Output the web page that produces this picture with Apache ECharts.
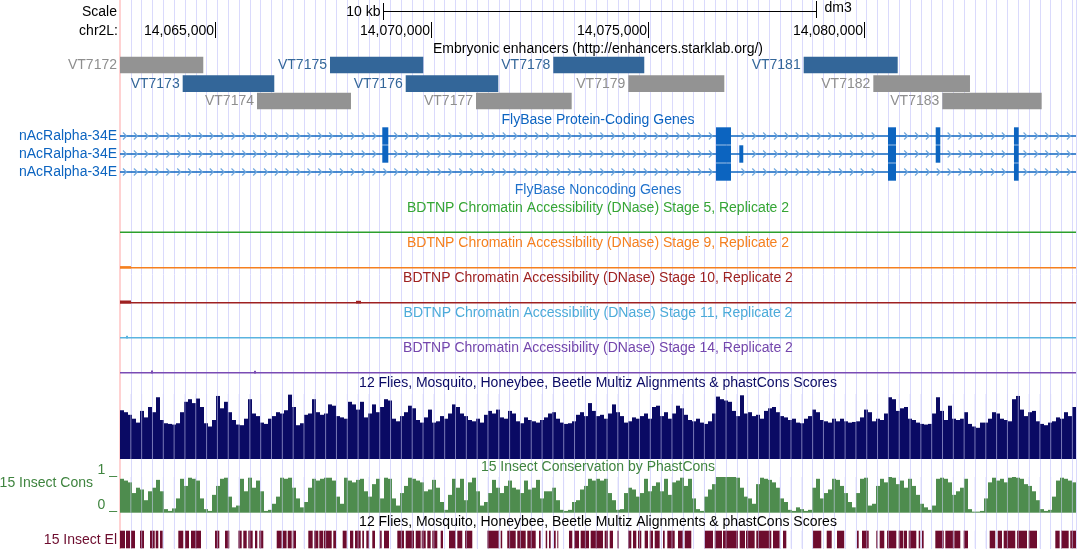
<!DOCTYPE html>
<html>
<head>
<meta charset="utf-8">
<script src="https://cdn.jsdelivr.net/npm/echarts@6/dist/echarts.min.js"></script>
<style>
  html, body { margin: 0; padding: 0; background: #ffffff; }
  #browser { width: 1078px; height: 549px; }
</style>
</head>
<body>
<div id="browser"></div>
<script>
// ---- window on chr2L (dm3) ----
const CHROM = 'chr2L:';
const ASSEMBLY = 'dm3';
const VIEW_START = 14062805;
const VIEW_END = 14084889;
const RULER_TICKS = [14065000, 14070000, 14075000, 14080000];
const SCALE_BAR = [14068873, 14078873];
const SCALE_LABEL = '10 kb';

// ---- Embryonic enhancers (Vienna tiles) ----
const ENH_NAMES  = ['VT7172', 'VT7173', 'VT7174', 'VT7175', 'VT7176', 'VT7177', 'VT7178', 'VT7179', 'VT7181', 'VT7182', 'VT7183'];
const ENH_STARTS = [14062580, 14064253, 14065970, 14067656, 14069405, 14071029, 14072814, 14074547, 14078598, 14080207, 14081800];
const ENH_ENDS   = [14064729, 14066369, 14068141, 14069811, 14071544, 14073239, 14074916, 14076765, 14080770, 14082440, 14084096];
const ENH_ROWS   = [0, 1, 2, 0, 1, 2, 0, 1, 0, 1, 2];
const ENH_ACTIVE = [0, 1, 0, 1, 1, 0, 1, 0, 1, 0, 0];

// ---- FlyBase protein-coding gene ----
const GENE_NAME = 'nAcRalpha-34E';
const GENE_START = 14055000;
const GENE_END = 14095000;
const EXON_STARTS = [14068864, 14076573, 14077111, 14080546, 14081648, 14083456];
const EXON_ENDS   = [14069003, 14076919, 14077203, 14080731, 14081754, 14083565];
const TRANSCRIPT_EXONS = [
  [0, 1, 3, 4, 5],
  [0, 1, 2, 3, 4, 5],
  [1, 3, 5]
];

// ---- BDTNP DNase accessibility (signal, 0-100) ----
const DNASE_TITLES = [
  'BDTNP Chromatin Accessibility (DNase) Stage 5, Replicate 2',
  'BDTNP Chromatin Accessibility (DNase) Stage 9, Replicate 2',
  'BDTNP Chromatin Accessibility (DNase) Stage 10, Replicate 2',
  'BDTNP Chromatin Accessibility (DNase) Stage 11, Replicate 2',
  'BDTNP Chromatin Accessibility (DNase) Stage 14, Replicate 2'
];
const DNASE_STAGE5  = [[14062805, 14084889, 5]];
const DNASE_STAGE9  = [[14062805, 14084889, 5], [14062805, 14063060, 8]];
const DNASE_STAGE10 = [[14062805, 14084889, 5], [14062805, 14063060, 10], [14068257, 14068372, 9]];
const DNASE_STAGE11 = [[14062805, 14084889, 5], [14062944, 14062990, 9]];
const DNASE_STAGE14 = [[14062805, 14084889, 5], [14063521, 14063567, 10], [14065900, 14065946, 9]];

// ---- conservation: fixed-step bins across the window ----
const MULTIZ = [
  75,72,68,62,56,74,64,80,72,95,60,55,54,53,55,72,88,92,86,93,80,55,50,60,97,78,88,72,60,53,
  52,62,92,70,66,56,54,62,66,72,70,75,99,80,52,55,68,70,92,72,68,70,84,82,66,64,62,88,84,76,
  88,64,70,84,72,80,92,90,62,58,66,72,82,78,60,56,64,76,56,58,66,62,70,84,80,70,66,60,58,62,
  56,68,74,70,76,64,62,74,70,58,55,64,60,58,56,60,64,70,72,62,56,54,55,58,68,72,66,86,74,66,
  68,62,70,84,72,66,56,58,64,62,66,70,62,80,82,66,72,62,70,82,78,68,60,58,62,56,54,58,70,96,
  92,90,88,74,66,98,70,72,66,68,62,74,78,80,72,66,64,60,62,56,55,62,66,76,72,60,58,56,62,58,
  62,58,56,57,58,64,76,72,58,62,60,70,95,92,74,78,80,62,60,56,54,53,54,70,95,74,60,82,62,60,
  62,72,54,50,48,56,56,62,72,70,62,60,58,92,97,76,66,72,74,58,54,52,56,58,64,62,72,66,80
];
const PHASTCONS = [
  95,90,85,55,70,65,35,60,70,92,60,10,5,12,40,95,75,98,95,90,40,10,5,50,75,95,98,45,15,20,
  95,60,98,70,90,60,5,8,25,45,98,95,98,70,40,15,30,70,95,90,95,98,98,90,45,25,98,90,85,92,
  95,60,45,80,95,40,98,95,40,20,55,75,98,95,90,85,60,65,92,70,30,8,50,95,70,95,35,85,98,60,
  20,30,55,92,70,55,75,90,70,65,55,90,65,70,92,40,60,60,70,35,8,5,8,30,35,65,75,95,90,95,
  90,95,55,35,8,10,55,70,65,45,55,95,60,75,85,60,95,50,85,90,98,75,95,40,10,5,45,65,80,100,
  100,100,100,100,98,70,45,40,25,80,98,95,92,85,70,40,30,8,5,15,10,5,8,70,95,40,55,65,95,92,
  75,55,30,15,55,95,98,20,25,75,95,85,100,98,80,90,70,95,75,50,25,15,8,20,95,98,95,85,50,60,
  70,95,10,3,3,5,40,85,98,90,95,85,98,100,98,95,80,75,60,35,10,5,8,45,90,98,95,90,85
];
const ELEMENT_STARTS = [
  14062800,14062944,14063059,14063267,14063498,14063630,14063729,14064152,14064307,14064445,
  14065000,14065231,14065538,14065653,14065769,14065924,14066023,14066425,14066563,14066679,
  14066794,14067155,14067286,14067409,14067517,14067732,14067949,14068118,14068234,14068402,
  14068495,14068633,14068804,14068903,14069211,14069405,14069636,14069774,14069904,14070019,
  14070213,14070405,14070597,14070775,14071290,14071599,14071751,14071983,14072214,14072484,
  14072639,14072715,14072830,14072907,14073177,14073292,14073447,14073678,14074001,14074117,
  14074293,14074540,14074655,14074771,14074925,14075041,14075157,14075348,14075448,14075695,
  14075850,14076312,14076543,14076734,14077120,14077266,14077504,14077889,14078120,14078813,
  14079130,14079368,14079830,14079945,14080276,14080354,14080523,14080793,14080908,14081024,
  14081255,14081331,14081639,14081870,14082078,14082294,14082895,14083080,14083218,14083525,
  14083796,14084411,14084542,14084757
];
const ELEMENT_ENDS = [
  14062921,14063036,14063152,14063359,14063607,14063690,14063791,14064267,14064399,14064676,
  14065099,14065330,14065616,14065732,14065870,14065977,14066115,14066540,14066653,14066771,
  14066871,14067256,14067386,14067501,14067695,14067795,14068042,14068194,14068365,14068441,
  14068557,14068696,14068850,14069019,14069365,14069596,14069751,14069867,14069982,14070135,
  14070266,14070560,14070712,14070943,14071560,14071634,14071946,14072177,14072408,14072523,
  14072673,14072754,14072870,14072930,14073253,14073408,14073639,14073962,14074078,14074193,
  14074323,14074616,14074732,14074847,14075002,14075117,14075272,14075388,14075619,14075810,
  14076002,14076503,14076711,14077081,14077243,14077466,14077850,14078044,14078197,14079005,
  14079246,14079535,14079869,14080100,14080308,14080460,14080738,14080892,14080985,14081200,
  14081292,14081370,14081833,14082064,14082216,14082394,14083024,14083179,14083486,14083757,
  14083988,14084512,14084720,14084912
];

// ---- track titles and side labels ----
const TITLE_ENHANCERS = 'Embryonic enhancers (http://enhancers.starklab.org/)';
const TITLE_GENES = 'FlyBase Protein-Coding Genes';
const TITLE_NONCODING = 'FlyBase Noncoding Genes';
const TITLE_MULTIZ = '12 Flies, Mosquito, Honeybee, Beetle Multiz Alignments & phastCons Scores';
const TITLE_PHASTCONS = '15 Insect Conservation by PhastCons';
const TITLE_ELEMENTS = '12 Flies, Mosquito, Honeybee, Beetle Multiz Alignments & phastCons Scores';
const LABEL_PHASTCONS = '15 Insect Cons';
const LABEL_ELEMENTS = '15 Insect El';
const PHASTCONS_RANGE = ['1 _', '0 _'];

// ---------------------------------------------------------------
const FONT = '14px "Liberation Sans", Arial, Helvetica, sans-serif';
const SPAN = VIEW_END - VIEW_START;
const GUIDE_BP = 250;
const LEFT = 120, RIGHT_PAD = 2, LABEL_X = 117, CENTER_X = 598;

const LAYOUT = {
  scaleY: 12, rulerY: 31, rulerTick: [22, 38],
  enhTitle: 49.5, enhRows: [65, 83.6, 101], enhH: 16.6,
  geneTitle: 120, txRows: [136, 154, 172], exonH: 17.4, chevronStep: 10.85,
  noncodingTitle: 190,
  dnaseTitle: [208, 243, 278, 313, 348], dnaseBase: [233.1, 268.5, 303.5, 338.5, 373.5], dnaseH: 30,
  multizTitle: 383, multizTop: 394, multizBottom: 459,
  pcTitle: 467.5, pcTop: 477, pcBottom: 512.7, pcLabel: 483.5, pcMax: 470, pcMin: 505.5,
  elTitle: 522.5, elTop: 530.7, elBottom: 548.3, elLabel: 540
};

const C = {
  guide: '#dadafc', edge: '#ffd2d2',
  enhActive: '#336699', enhInactive: '#939393', enhInactiveText: '#8e8e8e',
  gene: '#0c64c0', chevron: '#72a8de', noncoding: '#1f72cb',
  dnase: ['#2ca02c', '#f5801f', '#9e2121', '#5ab4df', '#7a4cb4'],
  dnaseText: ['#35a535', '#f5801f', '#9e2121', '#4cabd9', '#7446ac'],
  multiz: '#0a0a64', pc: '#4e8c4e', pcText: '#3f843f', el: '#6d0c2e'
};

const chart = echarts.init(document.getElementById('browser'), null, { renderer: 'canvas', width: 1078, height: 549 });

function clampX(x, cs) { return Math.max(cs.x, Math.min(cs.x + cs.width, x)); }
function crisp(x) { return Math.round(x) + 0.5; }

// fixed-step bins -> [start, end, value]
function binned(values) {
  const step = SPAN / values.length;
  return values.map((v, i) => [VIEW_START + i * step, VIEW_START + (i + 1) * step, v]);
}

function barRenderer(color) {
  return function (params, api) {
    const cs = params.coordSys;
    const a = api.coord([api.value(0), api.value(2)]);
    const b = api.coord([api.value(1), 0]);
    const x0 = clampX(a[0], cs), x1 = clampX(b[0], cs);
    return { type: 'rect', shape: { x: x0, y: a[1], width: Math.max(x1 - x0, 0.5), height: b[1] - a[1] },
             style: { fill: color } };
  };
}

// grids: 0 = whole browser image, 1 = multiz, 2 = phastCons, 3..7 = DNase
const grids = [
  { left: LEFT, right: RIGHT_PAD, top: 0, bottom: 0 },
  { left: LEFT, right: RIGHT_PAD, top: LAYOUT.multizTop, height: LAYOUT.multizBottom - LAYOUT.multizTop },
  { left: LEFT, right: RIGHT_PAD, top: LAYOUT.pcTop, height: LAYOUT.pcBottom - LAYOUT.pcTop }
];
LAYOUT.dnaseBase.forEach(b => grids.push({ left: LEFT, right: RIGHT_PAD, top: b - LAYOUT.dnaseH, height: LAYOUT.dnaseH }));

// axis 0 (x and y) and the guide axis live on grid 0; every other grid gets its own pair
const xAxes = [
  { gridIndex: 0, type: 'value', min: VIEW_START, max: VIEW_END, show: false },
  { gridIndex: 0, type: 'value', min: 0, max: SPAN, interval: GUIDE_BP,
    axisLine: { show: false }, axisTick: { show: false }, axisLabel: { show: false },
    splitLine: { show: true, lineStyle: { color: C.guide, width: 1 } } }
];
const yAxes = [
  { gridIndex: 0, type: 'value', min: 0, max: 1, offset: 1,
    axisLine: { show: true, lineStyle: { color: C.edge, width: 2 } },
    axisTick: { show: false }, axisLabel: { show: false }, splitLine: { show: false } }
];
const axisOf = {};
for (let g = 1; g < grids.length; g++) {
  axisOf[g] = { x: xAxes.length, y: yAxes.length };
  xAxes.push({ gridIndex: g, type: 'value', min: VIEW_START, max: VIEW_END, show: false });
  yAxes.push({ gridIndex: g, type: 'value', min: 0, max: 100, show: false });
}

const series = [];

// position ruler
series.push({
  type: 'custom', xAxisIndex: 0, yAxisIndex: 0, clip: false, silent: true,
  data: RULER_TICKS.map(t => [t]),
  renderItem(params, api) {
    const v = api.value(0);
    const x = crisp(api.coord([v, 0])[0]);
    return { type: 'group', children: [
      { type: 'line', shape: { x1: x, y1: LAYOUT.rulerTick[0], x2: x, y2: LAYOUT.rulerTick[1] }, style: { stroke: '#000', lineWidth: 1 } },
      { type: 'text', style: { text: v.toLocaleString('en-US'), x: x - 1.5, y: LAYOUT.rulerY, align: 'right', verticalAlign: 'middle', font: FONT, fill: '#000' } }
    ] };
  }
});

// scale bar
series.push({
  type: 'custom', xAxisIndex: 0, yAxisIndex: 0, clip: false, silent: true,
  data: [SCALE_BAR],
  renderItem(params, api) {
    const x0 = crisp(api.coord([api.value(0), 0])[0]);
    const x1 = crisp(api.coord([api.value(1), 0])[0]);
    const y = LAYOUT.scaleY - 0.5;
    return { type: 'group', children: [
      { type: 'line', shape: { x1: x0, y1: y, x2: x1, y2: y }, style: { stroke: '#000', lineWidth: 1 } },
      { type: 'line', shape: { x1: x0, y1: 3, x2: x0, y2: 20 }, style: { stroke: '#000', lineWidth: 1 } },
      { type: 'line', shape: { x1: x1, y1: 1, x2: x1, y2: 18 }, style: { stroke: '#000', lineWidth: 1 } },
      { type: 'text', style: { text: SCALE_LABEL, x: x0 - 3, y: LAYOUT.scaleY, align: 'right', verticalAlign: 'middle', font: FONT, fill: '#000' } },
      { type: 'text', style: { text: ASSEMBLY, x: x1 + 8, y: LAYOUT.scaleY - 4, align: 'left', verticalAlign: 'middle', font: FONT, fill: '#000' } }
    ] };
  }
});

// enhancer tiles
series.push({
  type: 'custom', xAxisIndex: 0, yAxisIndex: 0, clip: false, silent: true,
  data: ENH_NAMES.map((n, i) => [ENH_STARTS[i], ENH_ENDS[i], ENH_ROWS[i], ENH_ACTIVE[i], i]),
  renderItem(params, api) {
    const cs = params.coordSys;
    const x0 = clampX(api.coord([api.value(0), 0])[0], cs);
    const x1 = clampX(api.coord([api.value(1), 0])[0], cs);
    const yc = LAYOUT.enhRows[api.value(2)];
    const active = api.value(3) === 1;
    const name = ENH_NAMES[api.value(4)];
    return { type: 'group', children: [
      { type: 'rect', shape: { x: x0, y: yc - LAYOUT.enhH / 2, width: x1 - x0, height: LAYOUT.enhH },
        style: { fill: active ? C.enhActive : C.enhInactive } },
      { type: 'text', style: { text: name, x: x0 - 3, y: yc + 0.5, align: 'right', verticalAlign: 'middle', font: FONT,
        fill: active ? C.enhActive : C.enhInactiveText } }
    ] };
  }
});

// transcripts
series.push({
  type: 'custom', xAxisIndex: 0, yAxisIndex: 0, clip: false, silent: true,
  data: TRANSCRIPT_EXONS.map((ex, i) => [GENE_START, GENE_END, i]),
  renderItem(params, api) {
    const cs = params.coordSys;
    const row = api.value(2);
    const y = LAYOUT.txRows[row];
    const x0 = clampX(api.coord([api.value(0), 0])[0], cs);
    const x1 = clampX(api.coord([api.value(1), 0])[0], cs);
    const exons = TRANSCRIPT_EXONS[row].map(k => [api.coord([EXON_STARTS[k], 0])[0], api.coord([EXON_ENDS[k], 0])[0]]);
    const children = [
      { type: 'line', shape: { x1: x0, y1: y, x2: x1, y2: y }, style: { stroke: C.gene, lineWidth: 1.6 } }
    ];
    for (let px = x0 + 5; px < x1 - 2; px += LAYOUT.chevronStep) {
      if (exons.some(e => px > e[0] - 4 && px < e[1] + 4)) continue;
      children.push({ type: 'polyline', shape: { points: [[px - 2, y - 3.5], [px + 1.5, y], [px - 2, y + 3.5]] },
        style: { stroke: C.chevron, fill: null, lineWidth: 1.2 } });
    }
    exons.forEach(e => children.push({ type: 'rect',
      shape: { x: e[0], y: y - LAYOUT.exonH / 2, width: Math.max(e[1] - e[0], 2), height: LAYOUT.exonH },
      style: { fill: C.gene } }));
    children.push({ type: 'text', style: { text: GENE_NAME, x: cs.x - 3, y: y + 0.5, align: 'right', verticalAlign: 'middle', font: FONT, fill: C.gene } });
    return { type: 'group', children };
  }
});

// DNase signal tracks
[DNASE_STAGE5, DNASE_STAGE9, DNASE_STAGE10, DNASE_STAGE11, DNASE_STAGE14].forEach((segs, k) => {
  const ax = axisOf[3 + k];
  series.push({ type: 'custom', xAxisIndex: ax.x, yAxisIndex: ax.y, silent: true,
    data: segs, renderItem: barRenderer(C.dnase[k]) });
});

// multiz / phastCons wiggles
series.push({ type: 'custom', xAxisIndex: axisOf[1].x, yAxisIndex: axisOf[1].y, silent: true,
  data: binned(MULTIZ), renderItem: barRenderer(C.multiz) });
series.push({ type: 'custom', xAxisIndex: axisOf[2].x, yAxisIndex: axisOf[2].y, silent: true,
  data: binned(PHASTCONS), renderItem: barRenderer(C.pc) });

// conserved elements
series.push({
  type: 'custom', xAxisIndex: 0, yAxisIndex: 0, clip: false, silent: true,
  data: ELEMENT_STARTS.map((s, i) => [s, ELEMENT_ENDS[i]]),
  renderItem(params, api) {
    const cs = params.coordSys;
    const x0 = clampX(api.coord([api.value(0), 0])[0], cs);
    const x1 = clampX(api.coord([api.value(1), 0])[0], cs);
    return { type: 'rect', shape: { x: x0, y: LAYOUT.elTop, width: Math.max(x1 - x0, 1), height: LAYOUT.elBottom - LAYOUT.elTop },
             style: { fill: C.el } };
  }
});

// guide lines show through the conservation tracks
const guideTicks = [];
for (let t = GUIDE_BP; t < SPAN; t += GUIDE_BP) guideTicks.push([t]);
series.push({
  type: 'custom', xAxisIndex: 1, yAxisIndex: 0, clip: false, silent: true, z: 5,
  data: guideTicks,
  renderItem(params, api) {
    const x = api.coord([api.value(0), 0])[0];
    const st = { stroke: 'rgba(214,214,252,0.55)', lineWidth: 1 };
    return { type: 'group', children: [
      { type: 'line', shape: { x1: x, y1: LAYOUT.multizTop, x2: x, y2: LAYOUT.multizBottom }, style: st },
      { type: 'line', shape: { x1: x, y1: LAYOUT.pcTop, x2: x, y2: LAYOUT.pcBottom }, style: st },
      { type: 'line', shape: { x1: x, y1: LAYOUT.elTop, x2: x, y2: LAYOUT.elBottom }, style: st }
    ] };
  }
});

// text labels
function txt(text, x, y, fill, align) {
  return { type: 'text', x: x, y: y, z: 100, silent: true,
    style: { text: text, font: FONT, fill: fill, align: align || 'center', verticalAlign: 'middle' } };
}
const graphics = [
  txt('Scale', LABEL_X, LAYOUT.scaleY, '#000', 'right'),
  txt(CHROM, LABEL_X + 1, LAYOUT.rulerY, '#000', 'right'),
  txt(TITLE_ENHANCERS, CENTER_X, LAYOUT.enhTitle, '#000'),
  txt(TITLE_GENES, CENTER_X, LAYOUT.geneTitle, C.gene),
  txt(TITLE_NONCODING, CENTER_X, LAYOUT.noncodingTitle, C.noncoding),
  txt(TITLE_MULTIZ, CENTER_X, LAYOUT.multizTitle, C.multiz),
  txt(TITLE_PHASTCONS, CENTER_X, LAYOUT.pcTitle, C.pcText),
  txt(TITLE_ELEMENTS, CENTER_X, LAYOUT.elTitle, '#000'),
  txt(PHASTCONS_RANGE[0], LABEL_X, LAYOUT.pcMax, C.pcText, 'right'),
  txt(LABEL_PHASTCONS, 93, LAYOUT.pcLabel, C.pcText, 'right'),
  txt(PHASTCONS_RANGE[1], LABEL_X, LAYOUT.pcMin, C.pcText, 'right'),
  txt(LABEL_ELEMENTS, LABEL_X, LAYOUT.elLabel, C.el, 'right')
];
DNASE_TITLES.forEach((t, k) => graphics.push(txt(t, CENTER_X, LAYOUT.dnaseTitle[k], C.dnaseText[k])));

chart.setOption({
  animation: false,
  backgroundColor: '#ffffff',
  grid: grids,
  xAxis: xAxes,
  yAxis: yAxes,
  series: series,
  graphic: graphics
});
</script>
</body>
</html>
